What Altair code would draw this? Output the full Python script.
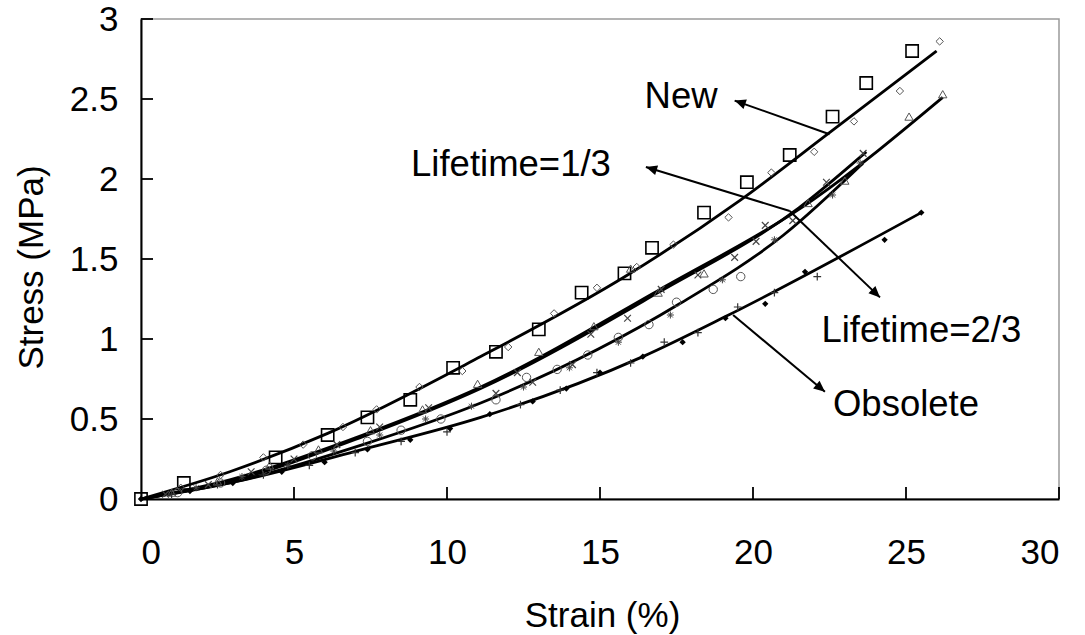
import math
import altair as alt
import pandas as pd

# ---------------- data ----------------
# fitted curves
new_x = [0, 2.9, 6.1, 11.1, 15.9, 19.6, 22.5, 26.0]
new_y = [0, 0.17, 0.41, 0.89, 1.40, 1.87, 2.29, 2.80]
l13a_x = [0, 2.9, 7.25, 11.1, 16.96, 21.96, 26.2]
l13a_y = [0, 0.12, 0.40, 0.70, 1.31, 1.87, 2.51]
l13b_x = [0, 2.9, 7.25, 11.1, 16.9, 21.5, 23.7]
l13b_y = [0, 0.11, 0.39, 0.69, 1.29, 1.82, 2.17]
l23_x = [0, 2.9, 7.25, 11.1, 17.6, 21.0, 23.6]
l23_y = [0, 0.10, 0.34, 0.60, 1.22, 1.65, 2.10]
obs_x = [0, 2.9, 7.25, 11.1, 16.4, 19.1, 25.5]
obs_y = [0, 0.10, 0.31, 0.51, 0.89, 1.14, 1.79]

# measured points
sq_x = [0, 1.4, 4.4, 6.1, 7.4, 8.8, 10.2, 11.6, 13.0, 14.4, 15.8, 16.7, 18.4, 19.8, 21.2, 22.6, 23.7, 25.2]
sq_y = [0, 0.10, 0.26, 0.40, 0.51, 0.62, 0.82, 0.92, 1.06, 1.29, 1.41, 1.57, 1.79, 1.98, 2.15, 2.39, 2.60, 2.80]
dm_x = [1.3, 2.6, 4.0, 5.3, 6.6, 7.7, 9.1, 10.5, 12.0, 13.5, 14.9, 16.2, 17.4, 19.2, 20.6, 22.0, 23.3, 24.8, 26.1]
dm_y = [0.07, 0.15, 0.26, 0.34, 0.45, 0.56, 0.70, 0.80, 0.95, 1.16, 1.32, 1.45, 1.59, 1.76, 2.04, 2.17, 2.36, 2.55, 2.86]
tri_x = [1.0, 2.5, 4.2, 5.8, 7.5, 9.2, 11.0, 13.0, 14.8, 16.0, 16.9, 18.4, 21.8, 23.0, 25.1, 26.2]
tri_y = [0.04, 0.11, 0.21, 0.31, 0.43, 0.56, 0.72, 0.92, 1.08, 1.44, 1.29, 1.41, 1.85, 1.99, 2.39, 2.53]
xx_x = [0.8, 2.2, 3.6, 5.0, 6.4, 7.8, 9.4, 11.6, 12.3, 12.8, 14.1, 14.7, 15.9, 17.0, 18.2, 19.4, 20.1, 20.4, 21.3, 22.4, 23.6]
xx_y = [0.03, 0.09, 0.17, 0.25, 0.34, 0.45, 0.57, 0.66, 0.79, 0.73, 0.84, 1.03, 1.13, 1.31, 1.40, 1.51, 1.61, 1.71, 1.74, 1.98, 2.16]
ci_x = [1.2, 2.6, 4.1, 5.6, 7.4, 8.5, 9.8, 11.6, 12.6, 13.6, 14.6, 15.6, 16.6, 17.5, 18.7, 19.6]
ci_y = [0.04, 0.10, 0.18, 0.27, 0.36, 0.43, 0.50, 0.62, 0.76, 0.81, 0.90, 1.01, 1.09, 1.23, 1.31, 1.39]
as_x = [1.8, 3.3, 4.8, 6.3, 7.8, 9.3, 10.8, 12.5, 14.0, 15.6, 17.3, 19.0, 20.7, 22.6, 23.5]
as_y = [0.07, 0.14, 0.21, 0.30, 0.40, 0.50, 0.58, 0.70, 0.82, 0.98, 1.15, 1.37, 1.62, 1.90, 2.10]
pl_x = [1.0, 2.5, 4.0, 5.5, 7.0, 8.5, 10.0, 12.4, 13.7, 14.9, 16.0, 17.1, 18.2, 19.5, 20.7, 22.1]
pl_y = [0.03, 0.09, 0.15, 0.21, 0.29, 0.36, 0.42, 0.59, 0.68, 0.79, 0.85, 0.98, 1.04, 1.20, 1.29, 1.39]
fd_x = [0, 1.6, 3.0, 4.6, 6.0, 7.4, 8.8, 10.1, 11.4, 12.8, 13.9, 15.0, 16.4, 17.7, 19.1, 20.4, 21.7, 24.3, 25.5]
fd_y = [0, 0.05, 0.10, 0.17, 0.23, 0.31, 0.37, 0.44, 0.53, 0.61, 0.69, 0.79, 0.89, 0.98, 1.13, 1.22, 1.42, 1.62, 1.79]

# axis ticks
x_ticks = [0, 5, 10, 15, 20, 25, 30]
y_ticks = [0, 0.5, 1, 1.5, 2, 2.5, 3]

# annotations: label, text position, arrow tail, arrow head (data units)
ann_text = ["New", "Lifetime=1/3", "Lifetime=2/3", "Obsolete"]
ann_tx = [17.65, 12.09, 25.5, 25.0]
ann_ty = [2.51, 2.09, 1.05, 0.59]
arr_x1 = [22.5, 21.2, 21.2, 19.35]
arr_y1 = [2.28, 1.80, 1.80, 1.15]
arr_x2 = [19.4, 16.5, 24.15, 22.35]
arr_y2 = [2.49, 2.075, 1.26, 0.67]

# ---------------- chart ----------------
W, H = 918, 480
XMAX, YMAX = 30, 3
FONT = "Liberation Sans"
FS = 35
FS_ANN = 36.5

xs = alt.Scale(domain=[0, XMAX], nice=False, zero=True)
ys = alt.Scale(domain=[0, YMAX], nice=False, zero=True)
xaxis = alt.Axis(title="Strain (%)", values=x_ticks, format="d", ticks=False, grid=False,
                 labelPadding=36, titleX=461, titleY=127, titleBaseline="alphabetic",
                 titleAlign="center", labelFontSize=FS, titleFontSize=FS, labelFont=FONT,
                 titleFont=FONT, titleFontWeight="normal", labelColor="black",
                 titleColor="black", domainColor="black", domainWidth=2)
yaxis = alt.Axis(title="Stress (MPa)", values=y_ticks, format="~g", ticks=False, grid=False,
                 labelPadding=23, titleX=-99, titleY=248, titleBaseline="alphabetic",
                 titleAlign="center", titleAngle=270, labelFontSize=FS, titleFontSize=FS,
                 labelFont=FONT, titleFont=FONT, titleFontWeight="normal", labelColor="black",
                 titleColor="black", domainColor="black", domainWidth=2)


def X(f="x"):
    return alt.X(f + ":Q", scale=xs, axis=xaxis)


def Y(f="y"):
    return alt.Y(f + ":Q", scale=ys, axis=yaxis)


layers = []

# fitted lines
for lx, ly in [(new_x, new_y), (l13a_x, l13a_y), (l13b_x, l13b_y), (l23_x, l23_y), (obs_x, obs_y)]:
    df = pd.DataFrame({"x": lx, "y": ly})
    layers.append(
        alt.Chart(df).mark_line(color="black", strokeWidth=2.8, interpolate="monotone")
        .encode(x=X(), y=Y())
    )

XPATH = "M-1,-1L1,1M-1,1L1,-1"
PLUS = "M-1,0L1,0M0,-1L0,1"
STAR = "M-1,0L1,0M0,-1L0,1M-0.7,-0.7L0.7,0.7M-0.7,0.7L0.7,-0.7"

markers = [
    (sq_x, sq_y, "square", 150, "black", False, 1.6),
    (dm_x, dm_y, "diamond", 55, "#555555", False, 1.0),
    (tri_x, tri_y, "triangle-up", 70, "#555555", False, 1.0),
    (xx_x, xx_y, XPATH, 45, "#444444", False, 1.2),
    (ci_x, ci_y, "circle", 70, "#555555", False, 1.0),
    (as_x, as_y, STAR, 50, "#444444", False, 1.0),
    (pl_x, pl_y, PLUS, 60, "#333333", False, 1.2),
    (fd_x, fd_y, "diamond", 40, "black", True, 1.0),
]
for mx, my, shape, size, col, filled, sw in markers:
    df = pd.DataFrame({"x": mx, "y": my})
    layers.append(
        alt.Chart(df).mark_point(shape=shape, size=size, color=col, filled=filled,
                                 strokeWidth=sw, opacity=1)
        .encode(x=X(), y=Y())
    )

# inward tick marks
ydf = pd.DataFrame({"y": y_ticks[1:]})
layers.append(
    alt.Chart(ydf).mark_rule(color="black", strokeWidth=1.8)
    .encode(y=Y(), x=alt.value(0), x2=alt.value(12))
)
xdf = pd.DataFrame({"x": x_ticks[1:]})
layers.append(
    alt.Chart(xdf).mark_rule(color="black", strokeWidth=1.8)
    .encode(x=X(), y=alt.value(H), y2=alt.value(H - 12))
)

# arrows
sx, sy = W / XMAX, H / YMAX
angles = []
for a, b, c, d in zip(arr_x1, arr_y1, arr_x2, arr_y2):
    dx = (c - a) * sx
    dy = -(d - b) * sy
    angles.append(math.degrees(math.atan2(dx, -dy)) % 360)
adf = pd.DataFrame({"x": arr_x1, "y": arr_y1, "x2": arr_x2, "y2": arr_y2, "ang": angles})
layers.append(
    alt.Chart(adf).mark_rule(color="black", strokeWidth=2)
    .encode(x=X(), y=Y(), x2="x2:Q", y2="y2:Q")
)
layers.append(
    alt.Chart(adf).mark_point(shape="M0,0L0.45,1L-0.45,1Z", size=500, filled=True,
                             color="black", opacity=1)
    .encode(x=alt.X("x2:Q", scale=xs, axis=xaxis), y=alt.Y("y2:Q", scale=ys, axis=yaxis),
            angle=alt.Angle("ang:Q", scale=None))
)

# labels
tdf = pd.DataFrame({"x": ann_tx, "y": ann_ty, "t": ann_text})
layers.append(
    alt.Chart(tdf).mark_text(font=FONT, fontSize=FS_ANN, color="black", align="center",
                             baseline="middle")
    .encode(x=X(), y=Y(), text="t:N")
)

chart = (
    alt.layer(*layers)
    .properties(width=W, height=H, padding={"left": 141, "top": 19, "right": 26, "bottom": 136},
                autosize=alt.AutoSizeParams(type="none"), background="white")
    .configure_view(stroke="#9a9a9a", strokeWidth=1.5)
    .configure_axis(domainColor="black", domainWidth=2, labelFont=FONT, titleFont=FONT,
                    labelFontSize=FS, titleFontSize=FS, labelColor="black", titleColor="black",
                    titleFontWeight="normal", ticks=False, grid=False)
)

chart.save("out.html", embed_options={"renderer": "svg", "actions": False})
